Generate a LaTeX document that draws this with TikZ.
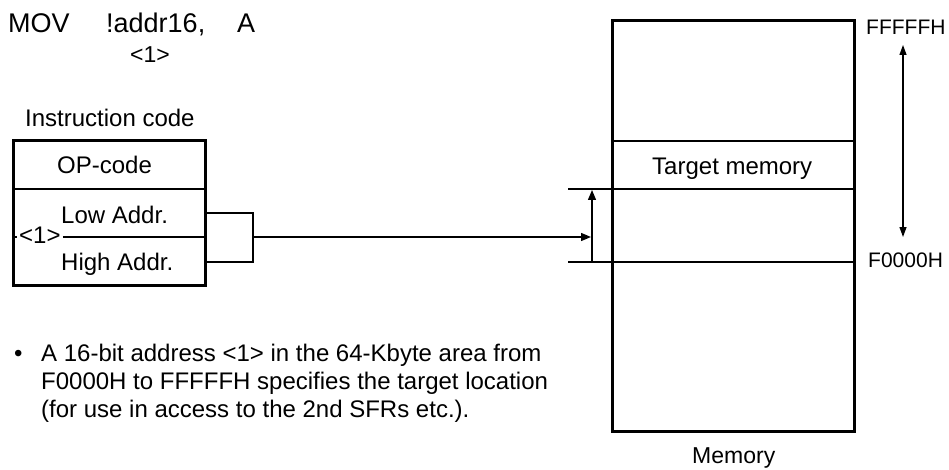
\documentclass[tikz,border=0pt]{standalone}
\usepackage{fontspec}
\setmainfont{Liberation Sans}
\usetikzlibrary{arrows.meta}
\begin{document}
\begin{tikzpicture}[x=1pt,y=-1pt,
  lbl/.style={inner sep=0pt, anchor=base west, font=\fontsize{24}{28}\selectfont},
  biglbl/.style={lbl, font=\fontsize{27}{32}\selectfont},
  addrlbl/.style={lbl, font=\fontsize{21}{25}\selectfont},
  boxline/.style={line width=3pt},
  midline/.style={line width=2pt},
  thinline/.style={line width=1.5pt},
  arr/.style={-{Triangle[length=10pt,width=8pt]}, line width=1.3pt},
  darr/.style={{Triangle[length=10pt,width=7pt]}-{Triangle[length=10pt,width=7pt]}, line width=1.3pt}]
\useasboundingbox (0,0) rectangle (949,470);

% instruction text
\node[biglbl] (mov) at (8,33) {MOV};
\node[biglbl] (opnd) at (106,33) {!addr16,};
\node[biglbl] (rega) at (237,33) {A};
\node[lbl, font=\fontsize{23}{27}\selectfont] (one) at (130,63) {<1>};

% instruction code box
\node[lbl] (ictitle) at (25,127) {Instruction code};
\coordinate (ibnw) at (13,141);
\coordinate (ibse) at (205,285);
\coordinate (ibl1) at (13,189);
\coordinate (ibr1) at (205,189);
\coordinate (ibl2) at (13,237);
\coordinate (ibr2) at (205,237);
\draw[midline] (ibl1) -- (ibr1);
\node[lbl] (opcode) at (57,174) {OP-code};
\node[lbl] (low) at (61,223) {Low Addr.};
\node[lbl] (high) at (61,270) {High Addr.};
\node[lbl, inner sep=0pt] (addrone) at (19,243) {<1>};
\draw[midline] (ibl2) -- ([xshift=-2pt]addrone.west |- ibl2);
\draw[midline] ([xshift=2pt]addrone.east |- ibr2) -- (ibr2);
\draw[boxline] (ibnw) rectangle (ibse);

% bracket and arrow
\coordinate (brlo) at (205,213);
\coordinate (brhi) at (205,262);
\coordinate (brtr) at (253,213);
\coordinate (brbr) at (253,262);
\coordinate (brmid) at (253,237);
\coordinate (tip) at (591,237);
\draw[midline] (brlo) -- (brtr) -- (brbr) -- (brhi);
\draw[arr] (brmid) -- (tip);

% memory
\coordinate (mnw) at (612,21);
\coordinate (mse) at (854,431);
\coordinate (m1l) at (612,141);
\coordinate (m1r) at (854,141);
\coordinate (m2l) at (568,189);
\coordinate (m2r) at (854,189);
\coordinate (m3l) at (568,262);
\coordinate (m3r) at (854,262);
\coordinate (vbot) at (592,262);
\coordinate (vtop) at (592,190);
\draw[thinline] (m1l) -- (m1r);
\draw[thinline] (m2l) -- (m2r);
\draw[midline] (m3l) -- (m3r);
\draw[arr] (vbot) -- (vtop);
\draw[boxline] (mnw) rectangle (mse);
\node[lbl] (target) at (652,175) {Target memory};
\node[lbl, font=\fontsize{23}{27}\selectfont] (memory) at (692,463) {Memory};

% address range
\node[addrlbl] (ffff) at (866,35) {FFFFFH};
\node[addrlbl] (f000) at (868,267) {F0000H};
\coordinate (dtop) at (903,45);
\coordinate (dbot) at (903,237);
\draw[darr] (dtop) -- (dbot);

% note
\node[lbl] (bullet) at (14,361) {•};
\node[lbl] (note1) at (41,361) {A 16-bit address <1> in the 64-Kbyte area from};
\node[lbl] (note2) at (41,389) {F0000H to FFFFFH specifies the target location};
\node[lbl] (note3) at (41,417) {(for use in access to the 2nd SFRs etc.).};
\end{tikzpicture}
\end{document}
